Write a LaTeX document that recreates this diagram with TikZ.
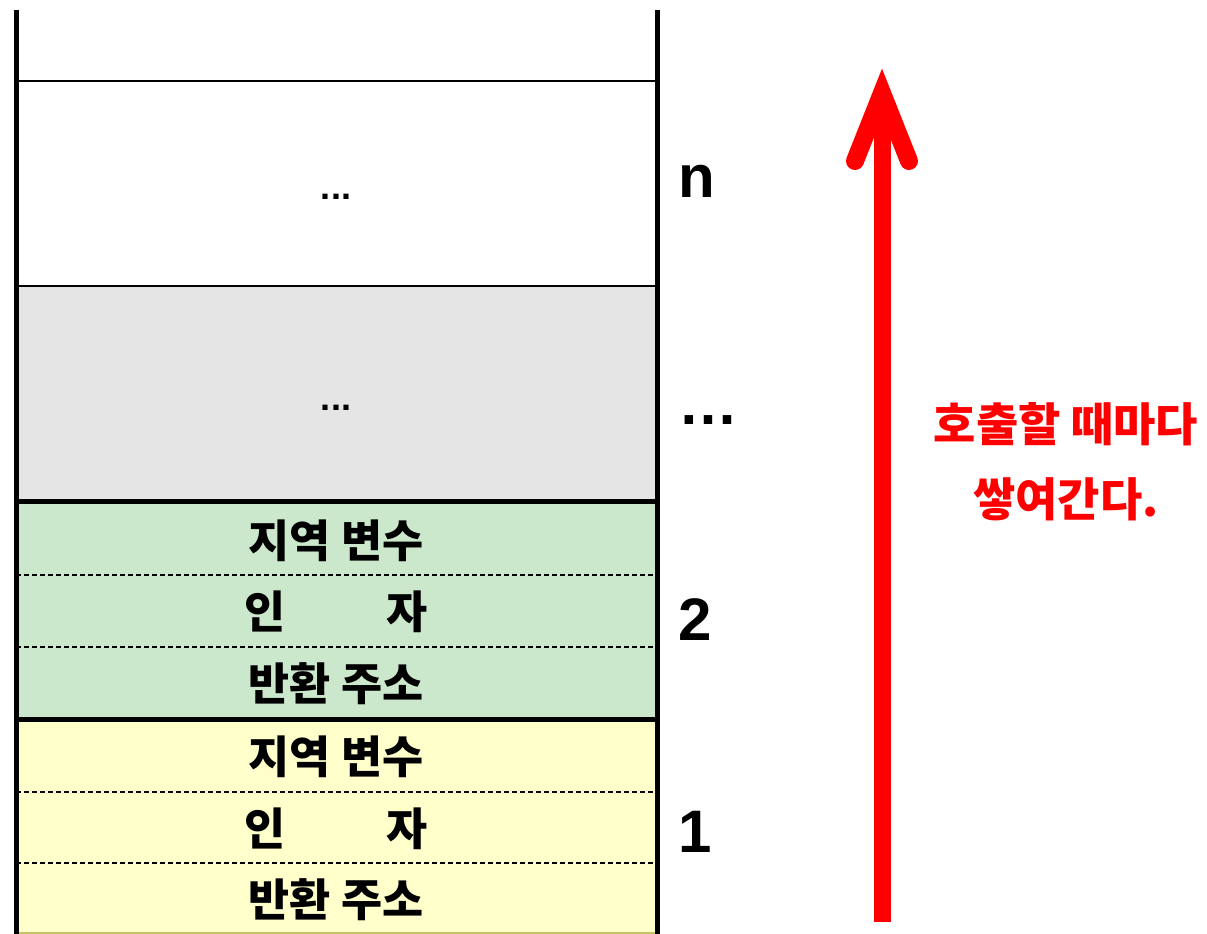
\documentclass[tikz,border=0pt]{standalone}
\usepackage{fontspec}
\setmainfont{Liberation Sans}
\newfontfamily\krfont{Noto Sans CJK KR}

\definecolor{framegray}{HTML}{E5E5E5}
\definecolor{framegreen}{HTML}{CCE8CC}
\definecolor{frameyellow}{HTML}{FFFFCC}
\definecolor{pushred}{HTML}{FF0000}

\begin{document}
\begin{tikzpicture}[x=0.75pt,y=-0.75pt,
    slot/.style={font=\krfont\bfseries\fontsize{33.5}{33.5}\selectfont, inner sep=0pt},
    frameno/.style={font=\bfseries\fontsize{45}{45}\selectfont, anchor=base west, inner sep=0pt},
    gapdots/.style={font=\bfseries\fontsize{27}{27}\selectfont, inner sep=0pt},
    rowsep/.style={dashed, line width=1.5pt, dash pattern=on 3.75pt off 2.25pt}]
    \useasboundingbox (0,0) rectangle (1207,934);
    \begin{scope}

    \fill[framegray] (16,286) rectangle (657,501);
    \fill[framegreen] (16,501) rectangle (657,719);
    \fill[frameyellow] (16,719) rectangle (657,933);

    \draw [line width=2pt] (16,81) -- (657,81);
    \draw [line width=2pt] (16,286) -- (657,286);
    \draw [line width=3.75pt] (16,501) -- (657,501);
    \draw [line width=3.75pt] (16,719) -- (657,719);

    \draw [rowsep] (16,575) -- (657,575);
    \draw [rowsep] (16,647) -- (657,647);
    \draw [rowsep] (16,792) -- (657,792);
    \draw [rowsep] (16,863) -- (657,863);
    \draw [line width=1pt, olive!50] (16,933) -- (657,933);

    % stack walls
    \draw [line width=3.75pt] (16,10) -- (16,934);
    \draw [line width=3.75pt] (657,10) -- (657,934);

    \node[gapdots] (dotsn) at (336,197) {...};
    \node[gapdots] (dotsmid) at (336,408) {...};

    \node[slot] (locals2) at (336,541) {지역 변수};
    \node[slot] (args2) at (336,612) {인\hspace{2.25em}자};
    \node[slot] (ret2) at (336,684) {반환 주소};

    \node[slot] (locals1) at (336,757) {지역 변수};
    \node[slot] (args1) at (336,829) {인\hspace{2.25em}자};
    \node[slot] (ret1) at (336,900) {반환 주소};

    \node[frameno] (framen) at (678,198) {n};
    \node[frameno] (framemid) at (678,424) {…};
    \node[frameno] (frame2) at (678,640) {2};
    \node[frameno] (frame1) at (678,852) {1};

    % growth arrow
    \coordinate (arrowfoot) at (882,922);
    \coordinate (arrowtip) at (882,93);
    \draw [pushred, line width=12.75pt] (arrowfoot) -- (arrowtip);
    \draw [pushred, line width=13.5pt, line cap=round] (arrowtip) ++(-27,68) -- (arrowtip) -- ++(27,68);

    \node[font=\krfont\bfseries\fontsize{34.5}{56}\selectfont, text=pushred, align=center] (pushnote) at (1066,462) {호출할 때마다\\쌓여간다.};

    \end{scope}
\end{tikzpicture}
\end{document}
